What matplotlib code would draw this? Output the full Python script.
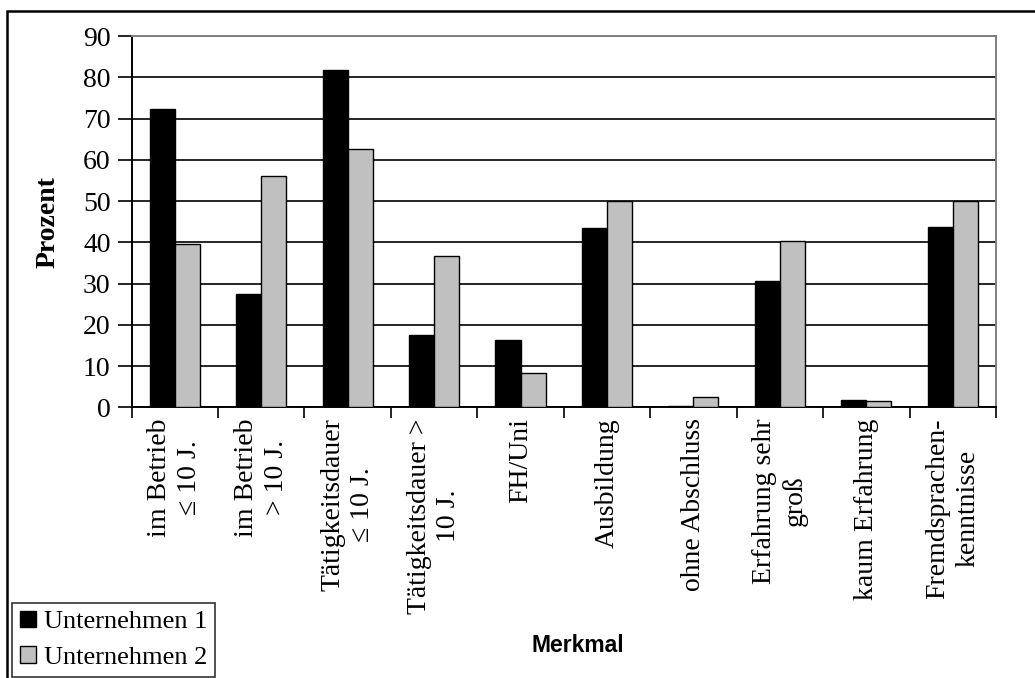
import numpy as np
import matplotlib
matplotlib.use("Agg")
import matplotlib.pyplot as plt
from matplotlib.patches import Rectangle

# Merkmale der Beschäftigten (Anteile in Prozent)
categories = [
    "im Betrieb\n≤ 10 J.",
    "im Betrieb\n> 10 J.",
    "Tätigkeitsdauer\n≤ 10 J.",
    "Tätigkeitsdauer >\n10 J.",
    "FH/Uni",
    "Ausbildung",
    "ohne Abschluss",
    "Erfahrung sehr\ngroß",
    "kaum Erfahrung",
    "Fremdsprachen-\nkenntnisse",
]
unternehmen_1 = [72.4, 27.4, 81.7, 17.5, 16.3, 43.4, 0.4, 30.7, 1.8, 43.8]
unternehmen_2 = [39.5, 56.1, 62.5, 36.6, 8.3, 50.0, 2.6, 40.3, 1.5, 50.0]
series_names = ["Unternehmen 1", "Unternehmen 2"]
y_ticks = [0, 10, 20, 30, 40, 50, 60, 70, 80, 90]

W, H = 1035, 678
serif = ["Liberation Serif", "DejaVu Serif"]
plt.rcParams["font.family"] = serif

fig = plt.figure(figsize=(W / 100, H / 100), dpi=100)
fig.patch.set_facecolor("white")

# outer frame of the figure
fig.patches.append(Rectangle((7 / W, -0.2), 1.2, 1.2 - 11 / H,
                             transform=fig.transFigure, fill=False,
                             edgecolor="black", lw=1.8, zorder=0))

left, right, top, bottom = 131.5, 996, 36, 407.3
ax = fig.add_axes([left / W, 1 - bottom / H, (right - left) / W, (bottom - top) / H])

x = np.arange(len(categories))
bw = 0.29
ax.bar(x - bw / 2, unternehmen_1, width=bw, color="black", edgecolor="black",
       linewidth=1.0, zorder=3, label=series_names[0])
ax.bar(x + bw / 2, unternehmen_2, width=bw, color="#C0C0C0", edgecolor="black",
       linewidth=1.0, zorder=3, label=series_names[1])

ax.set_xlim(-0.5, len(categories) - 0.5)
ax.set_ylim(0, 90)
ax.set_yticks(y_ticks)
ax.set_yticklabels([str(v) for v in y_ticks], fontsize=20)
ax.yaxis.grid(True, color="black", lw=1.2, zorder=1)
ax.set_axisbelow(True)

# category boundaries carry the tick marks
ax.set_xticks(np.arange(-0.5, len(categories) + 0.5, 1))
ax.set_xticklabels([])
ax.tick_params(axis="x", direction="out", length=8, width=1.2, color="black")
ax.tick_params(axis="y", direction="out", length=10, width=1.2, color="black", pad=5)

for side in ("left", "bottom"):
    ax.spines[side].set_color("black")
    ax.spines[side].set_linewidth(1.4)
for side in ("top", "right"):
    ax.spines[side].set_color("#808080")
    ax.spines[side].set_linewidth(1.4)

# rotated category labels
for xi, label in zip(x, categories):
    ax.annotate(label, xy=(xi, 0), xycoords=("data", "axes fraction"),
                xytext=(0, -11), textcoords="offset pixels",
                rotation=90, ha="center", va="top", multialignment="center",
                fontsize=20, linespacing=1.25)

ax.set_ylabel("Prozent", fontsize=20, fontweight="bold")
ax.yaxis.set_label_coords(-(left - 61) / (right - left), 0.5)

fig.text(578 / W, 1 - 645 / H, "Merkmal", ha="center", va="center",
         fontsize=16.5, fontweight="bold", family=["Liberation Sans", "DejaVu Sans"])

leg = fig.legend(loc="lower left", bbox_to_anchor=(12 / W, 1 - 677 / H),
                 frameon=True, fancybox=False, edgecolor="black",
                 fontsize=19, handlelength=0.6, handleheight=0.6,
                 handletextpad=0.3, borderpad=0.3, labelspacing=0.5,
                 borderaxespad=0)
leg.get_frame().set_linewidth(1.2)

fig.savefig("out.png", dpi=100, facecolor="white")
